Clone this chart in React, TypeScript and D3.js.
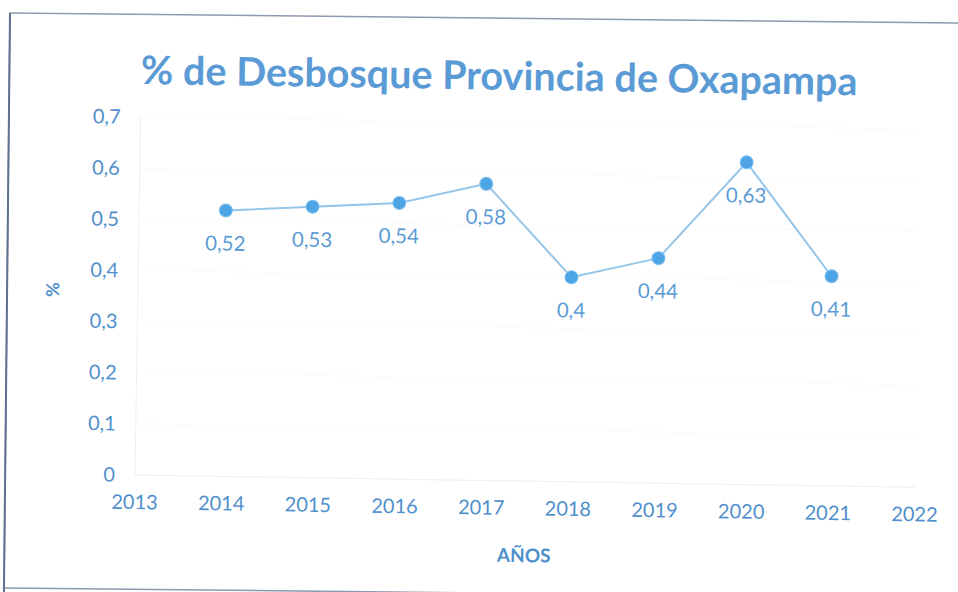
import React from "react";
import * as d3 from "d3";

const years = [2014, 2015, 2016, 2017, 2018, 2019, 2020, 2021];
const deforestation = [0.52, 0.53, 0.54, 0.58, 0.4, 0.44, 0.63, 0.41];
const yTicks = [0, 0.1, 0.2, 0.3, 0.4, 0.5, 0.6, 0.7];
const xTicks = [2013, 2014, 2015, 2016, 2017, 2018, 2019, 2020, 2021, 2022];

const width = 958;
const height = 592;
const marginLeft = 135;
const marginRight = 43;
const marginTop = 117;
const marginBottom = 117;

const font = "Lato, 'Open Sans', sans-serif";
const blue = "#5b9bd5";
const labelBlue = "#4f90cc";

export default function App() {
  const x = d3.scaleLinear().domain([2013, 2022]).range([marginLeft, width - marginRight]);
  const y = d3.scaleLinear().domain([0, 0.7]).range([height - marginBottom, marginTop]);
  const line = d3
    .line<number>()
    .x((d, i) => x(years[i]))
    .y((d) => y(d));
  const fmt = (v: number) => String(+v.toFixed(2)).replace(".", ",");

  // the scan is slightly tilted, rotate the whole chart a bit
  const tilt = `rotate(0.9, ${marginLeft}, ${y(0)})`;

  return (
    <svg width={width} height={height} style={{ position: "absolute", left: 0, top: 0, background: "#fff" }}>
      <g transform="rotate(0.6, 10, 13)">
        <rect x={10} y={13} width={980} height={575} fill="#fff" stroke="#8c9bb0" strokeWidth={1.5} />
        <line x1={10} y1={13} x2={10} y2={600} stroke="#5f7090" strokeWidth={2} />
      </g>
      <g transform={tilt}>
        {/* title */}
        <text x={493} y={84} textAnchor="middle" fontFamily={font} fontWeight="bold" fontSize={39.5} fill={blue}>
          % de Desbosque Provincia de Oxapampa
        </text>

        {/* faint grid */}
        {yTicks.map((t) => (
          <line key={t} x1={marginLeft} x2={width - marginRight} y1={y(t)} y2={y(t)} stroke="#f7fafc" />
        ))}
        <line x1={marginLeft} x2={marginLeft} y1={y(0)} y2={y(0.7)} stroke="#eaf1f5" />
        <line x1={marginLeft} x2={width - marginRight} y1={y(0)} y2={y(0)} stroke="#eaf1f5" />

        {/* y axis labels */}
        {yTicks.map((t) => (
          <text key={t} x={115} y={y(t)} dy="0.35em" textAnchor="end" fontFamily={font} fontSize={20} fill={labelBlue}>
            {fmt(t)}
          </text>
        ))}
        <text
          transform={`translate(50, ${y(0.36)}) rotate(-90)`}
          textAnchor="middle"
          dy="0.35em"
          fontFamily={font}
          fontWeight="bold"
          fontSize={18}
          fill={labelBlue}
        >
          %
        </text>

        {/* x axis labels */}
        {xTicks.map((t) => (
          <text key={t} x={x(t)} y={y(0) + 34} textAnchor="middle" fontFamily={font} fontSize={20} fill={labelBlue}>
            {t}
          </text>
        ))}
        <text x={x(2017.5)} y={y(0) + 81} textAnchor="middle" fontFamily={font} fontWeight="bold" fontSize={19} fill={labelBlue}>
          AÑOS
        </text>

        {/* series */}
        <path d={line(deforestation) ?? ""} fill="none" stroke="#95c6ea" strokeWidth={2} />
        {deforestation.map((v, i) => (
          <circle key={i} cx={x(years[i])} cy={y(v)} r={6.5} fill="#4ea5e6" stroke="#7dbdee" strokeWidth={1} />
        ))}
        {deforestation.map((v, i) => (
          <text
            key={i}
            x={x(years[i])}
            y={y(v) + 33}
            dy="0.35em"
            textAnchor="middle"
            fontFamily={font}
            fontSize={20.5}
            fill={blue}
          >
            {fmt(v)}
          </text>
        ))}
      </g>
    </svg>
  );
}
